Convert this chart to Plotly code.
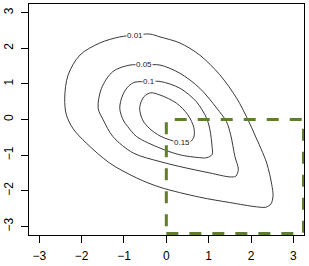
import plotly.graph_objects as go

# contour levels and their traced outlines (data coordinates)
levels = ["0.01", "0.05", "0.1", "0.15"]

c001_x = [-0.74, -0.39, -0.15, 0.32, 0.79, 1.26, 1.66, 1.93, 2.09, 2.37, 2.49, 2.52, 2.47, 2.35, 2.13, 1.50, 0.79, -0.15, -0.70, -1.34, -1.89, -2.20, -2.36, -2.40, -2.32, -2.04, -1.57, -1.10, -0.74]
c001_y = [2.37, 2.40, 2.32, 2.15, 1.81, 1.26, 0.60, -0.01, -0.43, -1.22, -1.83, -2.14, -2.37, -2.46, -2.45, -2.33, -2.18, -1.90, -1.64, -1.22, -0.66, -0.26, 0.13, 0.60, 1.25, 1.81, 2.15, 2.32, 2.37]

c005_x = [-0.51, -0.15, 0.32, 0.79, 1.19, 1.42, 1.52, 1.62, 1.70, 1.64, 1.50, 1.03, 0.32, -0.15, -0.78, -1.26, -1.49, -1.61, -1.53, -1.26, -0.86, -0.51]
c005_y = [1.53, 1.53, 1.30, 0.88, 0.32, -0.06, -0.43, -1.04, -1.40, -1.59, -1.61, -1.50, -1.32, -1.18, -0.94, -0.48, -0.01, 0.32, 0.88, 1.35, 1.53, 1.53]

c010_x = [-0.44, -0.15, 0.32, 0.71, 0.95, 1.03, 1.08, 1.08, 0.96, 0.79, 0.32, -0.15, -0.70, -0.91, -1.02, -1.10, -1.03, -0.89, -0.74, -0.44]
c010_y = [1.06, 1.07, 0.88, 0.50, 0.04, -0.29, -0.76, -0.98, -1.07, -1.07, -0.99, -0.80, -0.48, -0.20, -0.01, 0.32, 0.69, 0.94, 1.05, 1.06]

c015_x = [0.37, 0.08, -0.15, -0.39, -0.56, -0.63, -0.53, -0.37, -0.15, 0.24, 0.51, 0.65, 0.65, 0.56, 0.37]
c015_y = [-0.65, -0.57, -0.46, -0.26, -0.01, 0.33, 0.64, 0.75, 0.69, 0.46, 0.13, -0.23, -0.49, -0.63, -0.65]

# label anchor points (where R placed the contour labels)
label_x = [-0.74, -0.52, -0.41, 0.37]
label_y = [2.36, 1.55, 1.06, -0.65]

# highlighted region (x >= 0, y <= 0)
region_x = [0, 3.24]
region_y = [-3.20, 0]

tick_vals = [-3, -2, -1, 0, 1, 2, 3]
tick_text = ["\u22123", "\u22122", "\u22121", "0", "1", "2", "3"]

contours = [(c001_x, c001_y), (c005_x, c005_y), (c010_x, c010_y), (c015_x, c015_y)]

fig = go.Figure()
for (cx, cy), lv in zip(contours, levels):
    fig.add_trace(go.Scatter(x=cx, y=cy, mode="lines", name=lv,
                             line=dict(color="#3a3a3a", width=1, shape="spline", smoothing=0.9),
                             hoverinfo="skip", showlegend=False))

for lx, ly, lv in zip(label_x, label_y, levels):
    fig.add_annotation(x=lx, y=ly, text=lv, showarrow=False,
                       font=dict(family="Liberation Sans, Arial, sans-serif", size=8, color="#222222"),
                       bgcolor="white", borderpad=0)

fig.add_shape(type="rect", xref="x", yref="y",
              x0=region_x[0], x1=region_x[1], y0=region_y[0], y1=region_y[1],
              line=dict(color="#5f7f2c", width=3, dash="12px,11px"), layer="above")

axis_common = dict(showline=True, mirror=True, linecolor="black", linewidth=1,
                   ticks="outside", ticklen=7, tickwidth=1, tickcolor="black",
                   showgrid=False, zeroline=False, automargin=False,
                   tickvals=tick_vals, ticktext=tick_text,
                   tickfont=dict(family="Liberation Sans, Arial, sans-serif", size=12, color="black"))

fig.update_layout(
    width=309, height=266,
    margin=dict(l=29, r=5, t=4, b=31),
    paper_bgcolor="white", plot_bgcolor="white",
    xaxis=dict(range=[-3.243, 3.251], ticklabelstandoff=3, **axis_common),
    yaxis=dict(range=[-3.241, 3.244], tickangle=-90, ticklabelstandoff=3, **axis_common),
)

fig.write_html("out.html", config={"displayModeBar": False},
               post_script="document.body.style.margin='0';document.body.style.overflow='hidden';")
